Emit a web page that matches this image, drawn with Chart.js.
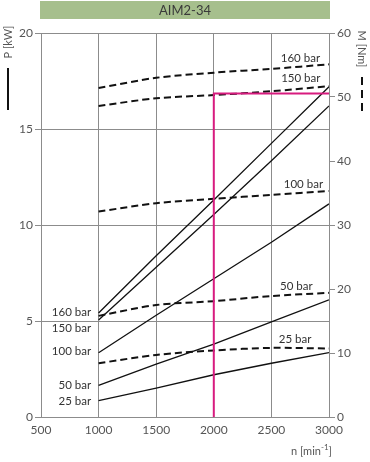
<!DOCTYPE html>
<html>
<head>
<meta charset="utf-8">
<title>AIM2-34</title>
<script src="https://cdn.jsdelivr.net/npm/chart.js@4"></script>
<style>
    html, body { margin: 0; padding: 0; background: #fff; }
    #wrap { width: 370px; height: 462px; }
</style>
</head>
<body>
<div id="wrap"><canvas id="motorChart" width="370" height="462"></canvas></div>
<script>
// Configuração global
Chart.defaults.font.family = "Lato, 'Open Sans', sans-serif";
Chart.defaults.font.size = 12;
Chart.defaults.color = '#555';

// Rotação (eixo x)
const speed = [1000, 1500, 2000, 2500, 3000];
const pressureLabels = ['160 bar', '150 bar', '100 bar', '50 bar', '25 bar'];

// Potência P [kW] - linhas contínuas
const power160 = [5.42, 8.4, 11.3, 14.25, 17.2];
const power150 = [5.05, 7.8, 10.55, 13.35, 16.2];
const power100 = [3.35, 5.3, 7.2, 9.1, 11.1];
const power50 = [1.65, 2.75, 3.8, 4.95, 6.1];
const power25 = [0.85, 1.5, 2.2, 2.8, 3.35];

// Torque M [Nm] - linhas tracejadas
const torque160 = [51.4, 53.0, 53.8, 54.4, 55.1];
const torque150 = [48.6, 49.8, 50.3, 50.9, 51.7];
const torque100 = [32.1, 33.4, 34.1, 34.7, 35.3];
const torque50 = [15.8, 17.5, 18.1, 18.9, 19.4];
const torque25 = [8.4, 9.7, 10.4, 10.8, 10.7];

// Ponto de operação (linha magenta)
const opSpeed = [2000, 2000, 3000];
const opPower = [0, 16.85, 16.85];

// Eixos
const speedTicks = [500, 1000, 1500, 2000, 2500, 3000];
const powerTicks = [0, 5, 10, 15, 20];
const torqueTicks = [0, 10, 20, 30, 40, 50, 60];

// Rótulos das curvas: esquerda (P) e direita (M)
const leftLabelSpeed = 935;
const leftLabelPower = [5.45, 4.62, 3.40, 1.65, 0.82];
const rightLabelSpeed = [2752, 2755, 2778, 2717, 2706];
const rightLabelTorque = [56.1, 53.0, 36.4, 20.5, 12.2];

const toPoints = (xs, ys) => xs.map((x, i) => ({ x: x, y: ys[i] }));

const powerSeries = [power160, power150, power100, power50, power25];
const torqueSeries = [torque160, torque150, torque100, torque50, torque25];

const datasets = [];
powerSeries.forEach((data, i) => {
    datasets.push({
        label: 'P ' + pressureLabels[i],
        data: toPoints(speed, data),
        yAxisID: 'y',
        borderColor: '#111',
        borderWidth: 1.3,
        pointRadius: 0,
        tension: 0,
        order: 2
    });
});
torqueSeries.forEach((data, i) => {
    datasets.push({
        label: 'M ' + pressureLabels[i],
        data: toPoints(speed, data),
        yAxisID: 'y2',
        borderColor: '#111',
        borderWidth: 2,
        borderDash: [7, 4],
        pointRadius: 0,
        tension: 0.3,
        order: 2
    });
});
datasets.push({
    label: 'operação',
    data: toPoints(opSpeed, opPower),
    yAxisID: 'y',
    borderColor: '#d81b7f',
    borderWidth: 2,
    pointRadius: 0,
    tension: 0,
    order: 0
});

// Plugin: faixa do título, títulos dos eixos e rótulos das curvas
const decorPlugin = {
    id: 'decor',
    beforeDraw(chart) {
        const { ctx, chartArea } = chart;
        ctx.save();
        ctx.fillStyle = '#a6bf8d';
        ctx.fillRect(chartArea.left - 1, 1, chartArea.right - chartArea.left + 2, 18);
        ctx.fillStyle = '#3a3a3a';
        ctx.font = '13px Lato, sans-serif';
        ctx.textAlign = 'center';
        ctx.textBaseline = 'middle';
        ctx.fillText('AIM2-34', (chartArea.left + chartArea.right) / 2, 10.5);
        ctx.restore();
    },
    afterDatasetsDraw(chart) {
        const { ctx, scales } = chart;
        const x = scales.x, y = scales.y, y2 = scales.y2;
        ctx.save();
        ctx.fillStyle = '#333';
        ctx.font = '11.5px Lato, sans-serif';
        ctx.textBaseline = 'middle';

        // rótulos à esquerda (curvas de potência)
        ctx.textAlign = 'right';
        pressureLabels.forEach((txt, i) => {
            ctx.fillText(txt, x.getPixelForValue(leftLabelSpeed), y.getPixelForValue(leftLabelPower[i]));
        });

        // rótulos à direita (curvas de torque)
        ctx.textAlign = 'center';
        pressureLabels.forEach((txt, i) => {
            ctx.fillText(txt, x.getPixelForValue(rightLabelSpeed[i]), y2.getPixelForValue(rightLabelTorque[i]));
        });

        // título eixo P
        ctx.fillStyle = '#555';
        ctx.font = '11px Lato, sans-serif';
        ctx.save();
        ctx.translate(8, 42);
        ctx.rotate(-Math.PI / 2);
        ctx.textAlign = 'center';
        ctx.fillText('P [kW]', 0, 0);
        ctx.restore();
        ctx.strokeStyle = '#111';
        ctx.lineWidth = 2;
        ctx.beginPath();
        ctx.moveTo(8, 68);
        ctx.lineTo(8, 110);
        ctx.stroke();

        // título eixo M
        ctx.save();
        ctx.translate(362, 49);
        ctx.rotate(Math.PI / 2);
        ctx.textAlign = 'center';
        ctx.fillText('M [Nm]', 0, 0);
        ctx.restore();
        ctx.setLineDash([8, 5]);
        ctx.beginPath();
        ctx.moveTo(362, 77);
        ctx.lineTo(362, 113);
        ctx.stroke();
        ctx.setLineDash([]);

        // título eixo n
        ctx.textAlign = 'center';
        ctx.font = '11px Lato, sans-serif';
        ctx.fillText('n [min', 306, 451);
        const w = ctx.measureText('n [min').width;
        ctx.font = '8px Lato, sans-serif';
        ctx.textAlign = 'left';
        ctx.fillText('-1', 306 + w / 2, 447);
        const w2 = ctx.measureText('-1').width;
        ctx.font = '11px Lato, sans-serif';
        ctx.fillText(']', 306 + w / 2 + w2, 451);
        ctx.restore();
    }
};

const gridGray = '#8c8c8c';
const plainTick = (value) => String(value);

new Chart(document.getElementById('motorChart').getContext('2d'), {
    type: 'line',
    data: { datasets: datasets },
    options: {
        responsive: false,
        devicePixelRatio: 1,
        animation: false,
        layout: { padding: { top: 33, left: 0, right: 0, bottom: 0 } },
        plugins: {
            legend: { display: false },
            tooltip: { enabled: false }
        },
        scales: {
            x: {
                type: 'linear',
                min: 500,
                max: 3000,
                afterBuildTicks: (scale) => { scale.ticks = speedTicks.map(v => ({ value: v })); },
                ticks: { padding: 6, maxRotation: 0, callback: plainTick },
                grid: { color: gridGray, lineWidth: 1, drawTicks: false },
                border: { color: gridGray },
                afterFit: (scale) => { scale.height = 45; }
            },
            y: {
                position: 'left',
                min: 0,
                max: 20,
                afterBuildTicks: (scale) => { scale.ticks = powerTicks.map(v => ({ value: v })); },
                ticks: { padding: 2, callback: plainTick },
                grid: { color: gridGray, lineWidth: 1, tickLength: 6 },
                border: { color: gridGray },
                afterFit: (scale) => { scale.width = 41; }
            },
            y2: {
                position: 'right',
                min: 0,
                max: 60,
                afterBuildTicks: (scale) => { scale.ticks = torqueTicks.map(v => ({ value: v })); },
                ticks: { padding: 2, callback: plainTick },
                grid: { color: gridGray, drawOnChartArea: false, tickLength: 6 },
                border: { color: gridGray },
                afterFit: (scale) => { scale.width = 41; }
            }
        }
    },
    plugins: [decorPlugin]
});
</script>
</body>
</html>
